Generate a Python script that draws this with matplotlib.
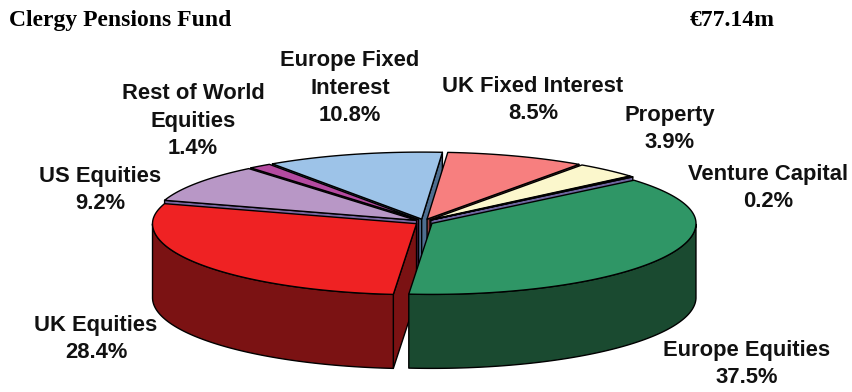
import numpy as np
import matplotlib
matplotlib.use("Agg")
import matplotlib.pyplot as plt
from matplotlib.patches import Polygon

# asset allocation, clockwise from the top of the pie
categories = ["UK Fixed Interest", "Property", "Venture Capital", "Europe Equities",
              "UK Equities", "US Equities", "Rest of World Equities", "Europe Fixed Interest"]
shares = [8.5, 3.9, 0.2, 37.5, 28.4, 9.2, 1.4, 10.8]
label_text = ["UK Fixed Interest\n8.5%", "Property\n3.9%", "Venture Capital\n0.2%",
              "Europe Equities\n37.5%", "UK Equities\n28.4%", "US Equities\n9.2%",
              "Rest of World\nEquities\n1.4%", "Europe Fixed\nInterest\n10.8%"]
label_pos = [(533, 100), (670, 129), (768, 188), (747, 364),
             (96, 339), (100, 190), (193, 121), (350, 88)]
top_colors = ["#F77F7F", "#FBF7CC", "#8F84C4", "#2F9666",
              "#EF2223", "#B897C6", "#B44AA0", "#9DC3E8"]
side_colors = ["#8F3F3F", "#8C8A6A", "#6F66A0", "#1A4A30",
               "#7B1213", "#7A66A0", "#5E2558", "#4E6E90"]
draw_order = [7, 6, 5, 0, 1, 2, 4, 3]

start_angle = 85.5
cx, cy = 424, 222
rx = 264
ry_back, ry_front = 67, 71
depth = 74
explode_x, explode_y = 9, 3


def rim(t, ox, oy):
    t = np.radians(t)
    s = np.sin(t)
    ry = np.where(s > 0, ry_back, ry_front)
    return np.column_stack([ox + rx * np.cos(t), oy - ry * s])


def draw_slice(ax, a0, a1, top, side):
    # a0 > a1, going clockwise
    mid = np.radians((a0 + a1) / 2)
    ox = cx + explode_x * np.cos(mid)
    oy = cy - explode_y * np.sin(mid)
    apex = np.array([[ox, oy]])
    down = np.array([0, depth])
    style = dict(edgecolor="black", linewidth=1.0, joinstyle="round")

    # radial walls, only the ones turned towards the viewer
    if np.cos(np.radians(a0)) < 0:
        walls = [a0]
    else:
        walls = []
    if np.cos(np.radians(a1)) > 0:
        walls.append(a1)
    for ang in walls:
        p = rim(np.array([ang]), ox, oy)
        quad = np.vstack([apex, p, p + down, apex + down])
        ax.add_patch(Polygon(quad, facecolor=side, **style))

    # curved wall, front half only
    ts = np.linspace(a0, a1, 200)
    ts = ts[np.sin(np.radians(ts)) <= 0]
    if len(ts) > 1:
        arc = rim(ts, ox, oy)
        ax.add_patch(Polygon(np.vstack([arc, (arc + down)[::-1]]), facecolor=side, **style))

    arc = rim(np.linspace(a0, a1, 200), ox, oy)
    ax.add_patch(Polygon(np.vstack([apex, arc]), facecolor=top, **style))


fig = plt.figure(figsize=(8.53, 3.92), dpi=100)
ax = fig.add_axes([0, 0, 1, 1])
ax.set_xlim(0, 853)
ax.set_ylim(392, 0)
ax.axis("off")

sweep = np.array(shares) / sum(shares) * 360
ends = start_angle - np.cumsum(sweep)
starts = ends + sweep
for i in draw_order:
    draw_slice(ax, starts[i], ends[i], top_colors[i], side_colors[i])

for txt, (x, y) in zip(label_text, label_pos):
    ax.text(x, y, txt, ha="center", va="center", family="Liberation Sans",
            weight="bold", fontsize=15.8, linespacing=1.42, color="#111111")

ax.text(9, 20, "Clergy Pensions Fund", ha="left", va="center", family="Liberation Serif",
        weight="bold", fontsize=17, color="black")
ax.text(690, 20, "€77.14m", ha="left", va="center", family="Liberation Serif",
        weight="bold", fontsize=17, color="black")

fig.savefig("out.png", dpi=100)
